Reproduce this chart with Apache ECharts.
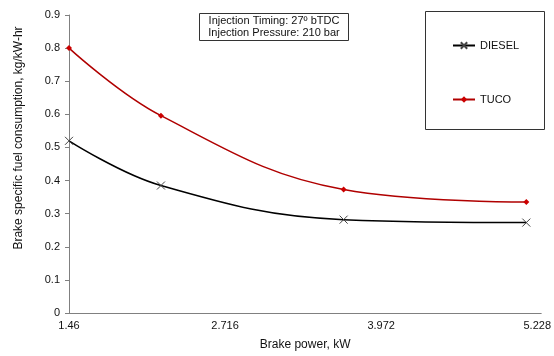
<!DOCTYPE html>
<html><head><meta charset="utf-8">
<script src="https://cdn.jsdelivr.net/npm/echarts@6/dist/echarts.min.js"></script>
<style>html,body{margin:0;padding:0;background:#fff}#c{width:554px;height:356px}</style>
</head><body><div id="c"></div>
<script>
var brakePower = [1.46, 2.20, 3.67, 5.14];
var dieselBSFC = [0.52, 0.385, 0.282, 0.273];
var tucoBSFC = [0.80, 0.596, 0.373, 0.335];
var xTickLabels = [1.46, 2.716, 3.972, 5.228];
var annotationLines = ['Injection Timing: 27º bTDC', 'Injection Pressure: 210 bar'];

function pairs(xs, ys){ return xs.map(function(x,i){return [x, ys[i]];}); }
var FONT = 'Liberation Sans, Arial, sans-serif';
var chart = echarts.init(document.getElementById('c'));
chart.setOption({
  animation: false,
  backgroundColor: '#fff',
  grid: {left: 69, right: 11, top: 15, bottom: 40},
  xAxis: {
    type: 'value', min: 1.46, max: 5.26,
    name: 'Brake power, kW', nameLocation: 'middle', nameGap: 26,
    nameTextStyle: {fontFamily: FONT, fontSize: 12, color: '#111'},
    axisLine: {lineStyle: {color: '#808080', width: 1}},
    axisTick: {show: false},
    splitLine: {show: false},
    axisLabel: {customValues: xTickLabels, fontFamily: FONT, fontSize: 11, color: '#111', margin: 7,
      formatter: function(v){ return String(v); }}
  },
  yAxis: {
    type: 'value', min: 0, max: 0.9, interval: 0.1,
    name: 'Brake specific fuel consumption, kg/kW-hr', nameLocation: 'middle', nameGap: 44,
    nameTextStyle: {fontFamily: FONT, fontSize: 12, color: '#111', padding: [0, 0, 0, 52]},
    axisLine: {show: true, lineStyle: {color: '#808080', width: 1}},
    axisTick: {show: true, length: 4, lineStyle: {color: '#808080'}},
    splitLine: {show: false},
    axisLabel: {fontFamily: FONT, fontSize: 11, color: '#111', margin: 9,
      formatter: function(v){ return String(Math.round(v*10)/10); }}
  },
  legend: {
    orient: 'vertical', left: 447, top: 35, itemGap: 43, itemWidth: 22, itemHeight: 8,
    textStyle: {fontFamily: FONT, fontSize: 11, color: '#111'},
    data: ['DIESEL', 'TUCO']
  },
  graphic: [
    {type: 'rect', shape: {x: 425.5, y: 11.5, width: 119, height: 118}, style: {fill: 'none', stroke: '#333', lineWidth: 1}, z: 0},
    {type: 'rect', shape: {x: 199.5, y: 13.5, width: 149, height: 27}, style: {fill: '#fff', stroke: '#333', lineWidth: 1}, z: 10},
    {type: 'text', x: 274, y: 21, style: {text: annotationLines[0], font: '11px ' + FONT, fill: '#111', align: 'center', verticalAlign: 'middle'}, z: 11},
    {type: 'text', x: 274, y: 33, style: {text: annotationLines[1], font: '11px ' + FONT, fill: '#111', align: 'center', verticalAlign: 'middle'}, z: 11}
  ],
  series: [
    {name: 'DIESEL', type: 'line', smooth: 0.4, data: pairs(brakePower, dieselBSFC),
      lineStyle: {color: '#000', width: 1.5},
      symbol: 'path://M0,0L10,10M10,0L0,10', symbolSize: 8,
      itemStyle: {color: '#000', borderColor: '#444', borderWidth: 1}},
    {name: 'TUCO', type: 'line', smooth: 0.4, data: pairs(brakePower, tucoBSFC),
      lineStyle: {color: '#b00000', width: 1.5},
      symbol: 'diamond', symbolSize: 6,
      itemStyle: {color: '#cc0000', borderColor: '#cc0000', borderWidth: 0}}
  ]
});
</script></body></html>
